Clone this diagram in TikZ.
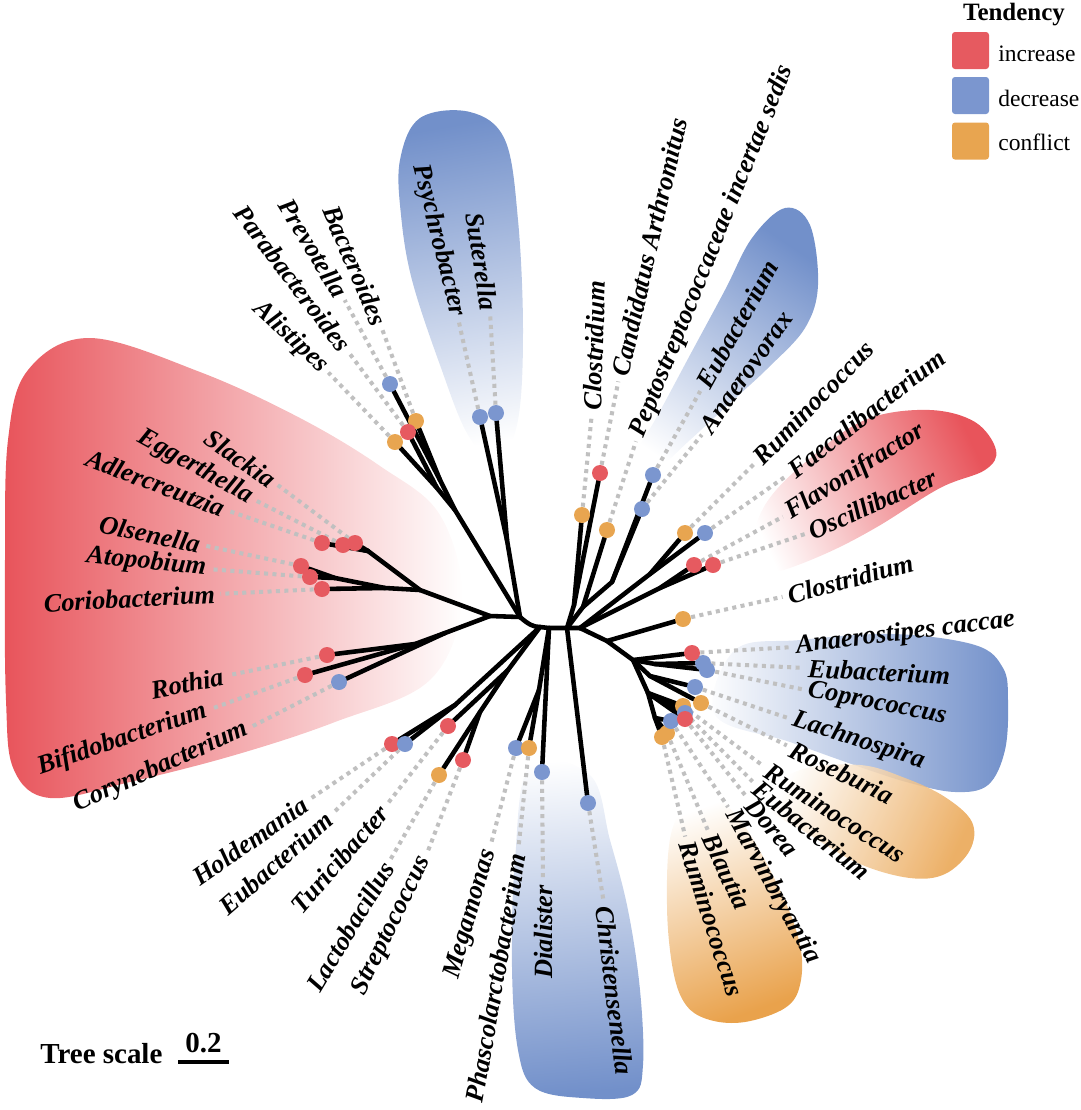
\documentclass[tikz,border=0pt]{standalone}
\usepackage{fontspec}
\setmainfont{Liberation Serif}
\definecolor{cinc}{HTML}{E65A60}
\definecolor{cdec}{HTML}{7B96CF}
\definecolor{ccon}{HTML}{E8A550}
\definecolor{rinc}{HTML}{E8545B}
\definecolor{rdec}{HTML}{7290CA}
\definecolor{rcon}{HTML}{E9A24C}
\definecolor{dgray}{HTML}{C0C0C0}
\pgfdeclarelayer{regions}
\pgfdeclarelayer{edges}
\pgfsetlayers{regions,edges,main}
\newcommand\labfont{\fontsize{15}{18}\selectfont\bfseries\itshape}
\newcommand\legfont{\fontsize{13.4}{16}\selectfont}
\newcommand\tipdot[3]{\node[tipnode,fill=#3] (#1) at (#2) {};}
\newcommand\tiplab[5]{\node[lab,anchor=#3,rotate=#4] (#1) at (#2) {#5};}
\newcommand\tipdash[2]{\draw[dashln] (#1) -- (#2);}
\begin{document}
\begin{tikzpicture}[x=0.02cm,y=-0.02cm,
  br/.style={line width=2.6pt,line cap=round,line join=round},
  dashln/.style={draw=dgray,line width=2.3pt,dash pattern=on 2.3pt off 2.5pt,shorten >=2pt},
  tipnode/.style={circle,inner sep=0pt,minimum size=0.32cm,draw=none},
  lab/.style={font=\labfont,inner sep=1pt},
  legbox/.style={rounded corners=0.06cm,minimum width=0.74cm,minimum height=0.74cm,inner sep=0pt},
]
\useasboundingbox (0,0) rectangle (1080,1110);

% ---------------- shaded regions ----------------
\begin{pgfonlayer}{regions}
\shade[left color=rinc,right color=white]
  plot[smooth cycle,tension=0.6] coordinates {(8,440) (28,370) (90,338) (200,372) (300,418) (380,466) (440,515) (462,600) (430,680) (335,722) (235,755) (130,782) (50,798) (14,770) (6,700) (5,560)};
\shade[top color=rdec,bottom color=white,shading angle=10]
  plot[smooth cycle,tension=0.6] coordinates {(400,160) (420,118) (470,112) (505,140) (518,220) (523,330) (518,420) (498,462) (468,435) (440,365) (412,280) (401,215)};
\shade[top color=rdec,bottom color=white,shading angle=-34]
  plot[smooth cycle,tension=0.6] coordinates {(620,480) (655,420) (690,355) (725,290) (752,238) (785,208) (810,225) (818,285) (805,328) (768,368) (730,403) (690,440) (650,475)};
\shade[top color=rinc,bottom color=white,shading angle=-65]
  plot[smooth cycle,tension=0.6] coordinates {(745,575) (765,505) (820,450) (870,418) (930,410) (975,422) (996,450) (985,470) (940,488) (877,527) (827,553) (777,572)};
\shade[left color=white,right color=rdec]
  plot[smooth cycle,tension=0.6] coordinates {(715,715) (735,650) (800,640) (893,634) (975,645) (1003,668) (1008,700) (1005,750) (988,785) (955,792) (910,783) (860,767) (790,742)};
\shade[top color=rcon,bottom color=white,shading angle=-115,opacity=0.85]
  plot[smooth cycle,tension=0.6] coordinates {(760,800) (800,770) (860,765) (905,778) (945,797) (972,822) (970,850) (945,874) (910,878) (860,864) (810,835)};
\shade[top color=rcon,bottom color=white,shading angle=-160]
  plot[smooth cycle,tension=0.6] coordinates {(700,790) (740,820) (780,890) (800,945) (800,985) (785,1008) (745,1022) (710,1020) (686,1005) (673,970) (667,905) (672,830)};
\shade[top color=white,bottom color=rdec,shading angle=5]
  plot[smooth cycle,tension=0.6] coordinates {(530,765) (590,775) (610,840) (628,910) (640,990) (643,1065) (632,1095) (583,1098) (535,1088) (518,1050) (512,967) (515,860)};
\end{pgfonlayer}

% ---------------- tree internal nodes ----------------
\coordinate (C1) at (520,617);
\coordinate (F0) at (540,627);
\coordinate (N0) at (549,628);
\coordinate (X0) at (567,628);
\coordinate (RR) at (580,628);
\coordinate (Bnode) at (455,510);
\coordinate (Ba) at (440,480);
\coordinate (Bb) at (437,488);
\coordinate (S1) at (507,540);
\coordinate (A0) at (490,616);
\coordinate (K0) at (420,590);
\coordinate (K1) at (368,551);
\coordinate (K2) at (385,588);
\coordinate (K2a) at (335,578);
\coordinate (R0) at (445,633);
\coordinate (R1) at (415,644);
\coordinate (HE) at (455,705);
\coordinate (T) at (508,670);
\coordinate (LS) at (480,712);
\coordinate (MP) at (539,690);
\coordinate (CC) at (574,605);
\coordinate (PE) at (583,607);
\coordinate (AE) at (612,582);
\coordinate (RF1) at (650,574);
\coordinate (RF2) at (660,588);
\coordinate (Q) at (607,641);
\coordinate (La) at (633,660);
\coordinate (Lb) at (655,664);
\coordinate (Lc) at (650,676);
\coordinate (Ld) at (648,693);
\coordinate (Le) at (655,718);

% ---------------- tips ----------------
\tipdot{dBacteroides}{416,421}{ccon}
\tipdot{dPrevotella}{390,384}{cdec}
\tipdot{dParabacteroides}{408,432}{cinc}
\tipdot{dAlistipes}{395,442}{ccon}
\tipdot{dPsychrobacter}{480,417}{cdec}
\tipdot{dSuterella}{496,413}{cdec}
\tipdot{dAdlercreutzia}{322,543}{cinc}
\tipdot{dEggerthella}{343,545}{cinc}
\tipdot{dSlackia}{355,543}{cinc}
\tipdot{dOlsenella}{301,566}{cinc}
\tipdot{dAtopobium}{310,577}{cinc}
\tipdot{dCoriobacterium}{322,589}{cinc}
\tipdot{dRothia}{327,655}{cinc}
\tipdot{dBifidobacterium}{305,675}{cinc}
\tipdot{dCorynebacterium}{339,682}{cdec}
\tipdot{dHoldemania}{392,744}{cinc}
\tipdot{dEubA}{405,744}{cdec}
\tipdot{dTuricibacter}{448,726}{cinc}
\tipdot{dLactobacillus}{439,775}{ccon}
\tipdot{dStreptococcus}{463,760}{cinc}
\tipdot{dMegamonas}{516,748}{cdec}
\tipdot{dPhasco}{529,748}{ccon}
\tipdot{dDialister}{542,772}{cdec}
\tipdot{dChristensenella}{588,803}{cdec}
\tipdot{dRumC}{662,737}{ccon}
\tipdot{dBlautia}{667,733}{ccon}
\tipdot{dMarvin}{671,721}{cdec}
\tipdot{dRumB}{683,706}{ccon}
\tipdot{dEubC}{685,713}{cdec}
\tipdot{dDorea}{685,719}{cinc}
\tipdot{dRoseburia}{701,703}{ccon}
\tipdot{dLachnospira}{695,687}{cdec}
\tipdot{dEubB}{703,663}{cdec}
\tipdot{dCoprococcus}{707,670}{cdec}
\tipdot{dAnaerostipes}{692,653}{cinc}
\tipdot{dClosB}{683,619}{ccon}
\tipdot{dFlavo}{694,565}{cinc}
\tipdot{dOscill}{713,565}{cinc}
\tipdot{dRumA}{685,533}{ccon}
\tipdot{dFaecal}{705,533}{cdec}
\tipdot{dAnaerovorax}{642,509}{cdec}
\tipdot{dEubD}{653,475}{cdec}
\tipdot{dPepto}{607,530}{ccon}
\tipdot{dCandidatus}{600,473}{cinc}
\tipdot{dClosA}{582,515}{ccon}

% ---------------- labels ----------------
\tiplab{lBacteroides}{381,326}{east}{-67}{Bacteroides}
\tiplab{lPrevotella}{343,297}{east}{-59}{Prevotella}
\tiplab{lParabacteroides}{347,350}{east}{-53}{Parabacteroides}
\tiplab{lAlistipes}{326,370}{east}{-43}{Alistipes}
\tiplab{lPsychrobacter}{458,318}{east}{-76}{Psychrobacter}
\tiplab{lSuterella}{490,312}{east}{-81}{Suterella}
\tiplab{lSlackia}{275,483}{east}{-35}{Slackia}
\tiplab{lEggerthella}{253,499}{east}{-29}{Eggerthella}
\tiplab{lAdlercreutzia}{226,510}{east}{-21}{Adlercreutzia}
\tiplab{lOlsenella}{202,545}{east}{-12}{Olsenella}
\tiplab{lAtopobium}{208,569}{east}{-6}{Atopobium}
\tiplab{lCoriobacterium}{217,594}{east}{3}{Coriobacterium}
\tiplab{lRothia}{225,676}{east}{11}{Rothia}
\tiplab{lBifidobacterium}{208,710}{east}{19}{Bifidobacterium}
\tiplab{lCorynebacterium}{249,728}{east}{24}{Corynebacterium}
\tiplab{lHoldemania}{307,801}{east}{35}{Holdemania}
\tiplab{lEubA}{331,815}{east}{41}{Eubacterium}
\tiplab{lTuricibacter}{385,807}{east}{49}{Turicibacter}
\tiplab{lLactobacillus}{389,862}{east}{59}{Lactobacillus}
\tiplab{lStreptococcus}{426,856}{east}{64}{Streptococcus}
\tiplab{lMegamonas}{490,848}{east}{74}{Megamonas}
\tiplab{lPhasco}{518,852}{east}{80}{Phascolarctobacterium}
\tiplab{lDialister}{543,883}{east}{90}{Dialister}
\tiplab{lChristensenella}{604,904}{west}{-83}{Christensenella}
\tiplab{lRumC}{686,840}{west}{-72}{Ruminococcus}
\tiplab{lBlautia}{709,833}{west}{-65}{Blautia}
\tiplab{lMarvin}{730,810}{west}{-61}{Marvinbryantia}
\tiplab{lDorea}{749,800}{west}{-50}{Dorea}
\tiplab{lEubC}{755,784}{west}{-39}{Eubacterium}
\tiplab{lRumB}{766,768}{west}{-33}{Ruminococcus}
\tiplab{lRoseburia}{790,747}{west}{-26}{Roseburia}
\tiplab{lLachnospira}{791,719}{west}{-18}{Lachnospira}
\tiplab{lCoprococcus}{806,690}{west}{-11}{Coprococcus}
\tiplab{lEubB}{806,668}{west}{-3}{Eubacterium}
\tiplab{lAnaerostipes}{794,647}{west}{7}{Anaerostipes caccae}
\tiplab{lClosB}{786,596}{west}{15}{Clostridium}
\tiplab{lOscill}{808,533}{west}{24}{Oscillibacter}
\tiplab{lFlavo}{786,515}{west}{32}{Flavonifractor}
\tiplab{lFaecal}{789,474}{west}{38}{Faecalibacterium}
\tiplab{lRumA}{756,462}{west}{46}{Ruminococcus}
\tiplab{lAnaerovorax}{704,432}{west}{55}{Anaerovorax}
\tiplab{lEubD}{702,388}{west}{61}{Eubacterium}
\tiplab{lPepto}{637,438}{west}{68}{Peptostreptococcaceae incertae sedis}
\tiplab{lCandidatus}{619,378}{west}{77}{Candidatus Arthromitus}
\tiplab{lClosA}{592,412}{west}{88}{Clostridium}

% ---------------- edges ----------------
\begin{pgfonlayer}{edges}
\tipdash{dBacteroides}{lBacteroides.east}
\tipdash{dPrevotella}{lPrevotella.east}
\tipdash{dParabacteroides}{lParabacteroides.east}
\tipdash{dAlistipes}{lAlistipes.east}
\tipdash{dPsychrobacter}{lPsychrobacter.east}
\tipdash{dSuterella}{lSuterella.east}
\tipdash{dSlackia}{lSlackia.east}
\tipdash{dEggerthella}{lEggerthella.east}
\tipdash{dAdlercreutzia}{lAdlercreutzia.east}
\tipdash{dOlsenella}{lOlsenella.east}
\tipdash{dAtopobium}{lAtopobium.east}
\tipdash{dCoriobacterium}{lCoriobacterium.east}
\tipdash{dRothia}{lRothia.east}
\tipdash{dBifidobacterium}{lBifidobacterium.east}
\tipdash{dCorynebacterium}{lCorynebacterium.east}
\tipdash{dHoldemania}{lHoldemania.east}
\tipdash{dEubA}{lEubA.east}
\tipdash{dTuricibacter}{lTuricibacter.east}
\tipdash{dLactobacillus}{lLactobacillus.east}
\tipdash{dStreptococcus}{lStreptococcus.east}
\tipdash{dMegamonas}{lMegamonas.east}
\tipdash{dPhasco}{lPhasco.east}
\tipdash{dDialister}{lDialister.east}
\tipdash{dChristensenella}{lChristensenella.west}
\tipdash{dRumC}{lRumC.west}
\tipdash{dBlautia}{lBlautia.west}
\tipdash{dMarvin}{lMarvin.west}
\tipdash{dDorea}{lDorea.west}
\tipdash{dEubC}{lEubC.west}
\tipdash{dRumB}{lRumB.west}
\tipdash{dRoseburia}{lRoseburia.west}
\tipdash{dLachnospira}{lLachnospira.west}
\tipdash{dCoprococcus}{lCoprococcus.west}
\tipdash{dEubB}{lEubB.west}
\tipdash{dAnaerostipes}{lAnaerostipes.west}
\tipdash{dClosB}{lClosB.west}
\tipdash{dOscill}{lOscill.west}
\tipdash{dFlavo}{lFlavo.west}
\tipdash{dFaecal}{lFaecal.west}
\tipdash{dRumA}{lRumA.west}
\tipdash{dAnaerovorax}{lAnaerovorax.west}
\tipdash{dEubD}{lEubD.west}
\tipdash{dPepto}{lPepto.west}
\tipdash{dCandidatus}{lCandidatus.west}
\tipdash{dClosA}{lClosA.west}

% root arc
\draw[br] (C1) .. controls (528,624) and (533,627) .. (F0) -- (N0) -- (X0) -- (RR);
% Bacteroidetes
\draw[br] (C1) -- (Bnode) -- (Ba) -- (dBacteroides);
\draw[br] (Ba) -- (dPrevotella);
\draw[br] (Bnode) -- (Bb) -- (dParabacteroides);
\draw[br] (Bb) -- (dAlistipes);
% Suterella / Psychrobacter
\draw[br] (C1) -- (S1) -- (dPsychrobacter);
\draw[br] (S1) -- (dSuterella);
% Actinobacteria
\draw[br] (C1) -- (A0) -- (K0) -- (K1) -- (dSlackia);
\draw[br] (K1) -- (dEggerthella);
\draw[br] (K1) -- (dAdlercreutzia);
\draw[br] (K0) -- (K2) -- (K2a) -- (dOlsenella);
\draw[br] (K2a) -- (dAtopobium);
\draw[br] (K2) -- (dCoriobacterium);
\draw[br] (A0) -- (R0) -- (R1) -- (dRothia);
\draw[br] (R1) -- (dBifidobacterium);
\draw[br] (R0) -- (dCorynebacterium);
% lower left Firmicutes
\draw[br] (F0) -- (HE) -- (dHoldemania);
\draw[br] (HE) -- (dEubA);
\draw[br] (F0) -- (T) -- (dTuricibacter);
\draw[br] (T) -- (LS) -- (dLactobacillus);
\draw[br] (LS) -- (dStreptococcus);
% Negativicutes
\draw[br] (N0) -- (MP) -- (dMegamonas);
\draw[br] (MP) -- (dPhasco);
\draw[br] (N0) -- (dDialister);
\draw[br] (X0) -- (dChristensenella);
% upper Clostridia
\draw[br] (X0) -- (CC) -- (dClosA);
\draw[br] (CC) -- (dCandidatus);
\draw[br] (X0) -- (PE) -- (dPepto);
\draw[br] (PE) -- (AE) -- (dAnaerovorax);
\draw[br] (AE) -- (dEubD);
\draw[br] (RR) -- (RF1) -- (dRumA);
\draw[br] (RF1) -- (dFaecal);
\draw[br] (RR) -- (RF2) -- (dFlavo);
\draw[br] (RF2) -- (dOscill);
% Lachnospiraceae
\draw[br] (RR) -- (Q) -- (dClosB);
\draw[br] (Q) -- (La) -- (dAnaerostipes);
\draw[br] (La) -- (Lb) -- (dEubB);
\draw[br] (Lb) -- (dCoprococcus);
\draw[br] (La) -- (Lc) -- (dLachnospira);
\draw[br] (Lc) -- (dRoseburia);
\draw[br] (La) -- (Ld) -- (dRumB);
\draw[br] (Ld) -- (dEubC);
\draw[br] (Ld) -- (dDorea);
\draw[br] (Ld) -- (Le) -- (dMarvin);
\draw[br] (Le) -- (dBlautia);
\draw[br] (Le) -- (dRumC);
\end{pgfonlayer}

% ---------------- legend ----------------
\node[font=\fontsize{14.2}{16}\selectfont\bfseries,anchor=base,inner sep=0pt] (legT) at (1014,20) {Tendency};
\node[legbox,fill=cinc] (kInc) at (970.5,50.5) {};
\node[legbox,fill=cdec] (kDec) at (970.5,95.5) {};
\node[legbox,fill=ccon] (kCon) at (970.5,141) {};
\node[font=\legfont,anchor=base west,inner sep=0pt] (tInc) at (998,61) {increase};
\node[font=\legfont,anchor=base west,inner sep=0pt] (tDec) at (998,106) {decrease};
\node[font=\legfont,anchor=base west,inner sep=0pt] (tCon) at (998,150) {conflict};

% ---------------- tree scale ----------------
\node[font=\fontsize{16.5}{18}\selectfont\bfseries,anchor=base west,inner sep=0pt] (tsLab) at (40,1063) {Tree scale};
\node[font=\fontsize{16.5}{18}\selectfont\bfseries,anchor=base,inner sep=0pt] (tsVal) at (203.5,1052) {0.2};
\coordinate (sb1) at (178,1062);
\coordinate (sb2) at (229,1062);
\draw[line width=1.8pt] (sb1) -- (sb2);
\end{tikzpicture}
\end{document}
